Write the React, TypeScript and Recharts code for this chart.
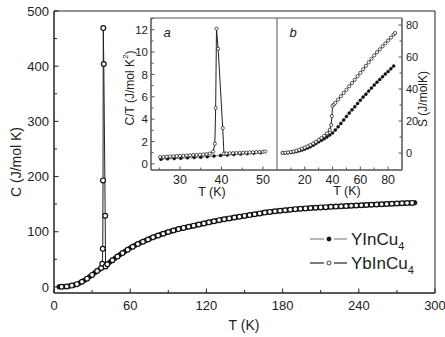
import React from 'react';
import { LineChart, Line, XAxis, YAxis, ReferenceArea } from 'recharts';

const FONT = '"Liberation Sans", Arial, Helvetica, sans-serif';

// ---------- Main panel: C (J/mol K) vs T (K) ----------
const mainYInT = [4, 8, 12, 16, 20, 24, 28, 32, 36, 40, 44, 48, 52, 56, 60, 64, 68, 72, 76, 80, 84, 88, 92, 96, 100, 104, 108, 112, 116, 120, 124, 128, 132, 136, 140, 144, 148, 152, 156, 160, 164, 168, 172, 176, 180, 184, 188, 192, 196, 200, 204, 208, 212, 216, 220, 224, 228, 232, 236, 240, 244, 248, 252, 256, 260, 264, 268, 272, 276, 280, 284];
const mainYInC = [0.1, 0.5, 1.5, 3.5, 7, 12, 18.5, 25.5, 32, 38, 45, 52, 58.5, 64.5, 70.5, 75.5, 80, 84, 88, 91.5, 95, 98, 101, 103.5, 106, 108, 110, 112, 114, 116, 118, 120, 122, 123.5, 125, 126.5, 128, 129.5, 131, 132.5, 134, 135.5, 136.5, 137.5, 138.5, 139.5, 140.5, 141.3, 142, 142.7, 143.3, 143.9, 144.4, 144.9, 145.4, 145.8, 146.3, 146.8, 147.3, 147.8, 148.3, 148.8, 149.3, 149.7, 150.1, 150.5, 150.9, 151.3, 151.7, 152.1, 152.5];

const mainYbT = [6, 10, 14, 18, 22, 26, 30, 34, 37.2, 38.0, 38.4, 38.6, 38.8, 39.2, 40.3, 40.6, 42, 46, 50, 54, 58, 62, 66, 70, 74, 78, 82, 86, 90, 94, 98, 102, 106, 110, 114, 118, 122, 126, 130, 134, 138, 142, 146, 150, 154, 158, 162, 166, 170, 174, 178, 182, 186, 190, 194, 198, 202, 206, 210, 214, 218, 222, 226, 230, 234, 238, 242, 246, 250, 254, 258, 262, 266, 270, 274, 278, 282];
const mainYbC = [0.2, 0.9, 2.4, 5, 9.3, 15, 21.8, 28.8, 34.5, 42, 69, 193, 469, 404, 129, 37, 41, 48.3, 55, 61.3, 67.3, 72.8, 77.6, 82, 86, 89.8, 93.2, 96.5, 99.5, 102.2, 104.8, 107, 109, 111, 113, 115, 117, 119, 121, 122.7, 124.2, 125.7, 127.2, 128.7, 130.2, 131.7, 133.2, 134.7, 136, 137, 138, 139, 140, 140.9, 141.6, 142.3, 143, 143.6, 144.1, 144.6, 145.1, 145.6, 146, 146.5, 147, 147.5, 148, 148.5, 149, 149.5, 149.9, 150.3, 150.7, 151.1, 151.5, 151.9, 152.3];

const mainXTicks = [0, 30, 60, 90, 120, 150, 180, 210, 240, 270, 300];
const mainXLabels = [0, 60, 120, 180, 240, 300];
const mainYTicks = [0, 50, 100, 150, 200, 250, 300, 350, 400, 450, 500];
const mainYLabels = [0, 100, 200, 300, 400, 500];

// ---------- Inset a: C/T vs T ----------
const insetAYInT = [25.4, 27.0, 28.6, 30.2, 31.8, 33.4, 35.0, 36.6, 38.2, 39.8, 41.4, 43.0, 44.6, 46.2, 47.8, 49.4];
const insetAYInCT = [0.42, 0.45, 0.48, 0.51, 0.54, 0.57, 0.6, 0.64, 0.7, 0.75, 0.8, 0.84, 0.88, 0.92, 0.96, 1.0];
const insetAYbT = [25.2, 26.0, 26.8, 27.6, 28.4, 29.2, 30.0, 30.8, 31.6, 32.4, 33.2, 34.0, 34.8, 35.6, 36.4, 37.2, 38.0, 38.4, 38.6, 38.8, 39.2, 40.3, 40.6, 41.2, 42.0, 42.8, 43.6, 44.4, 45.2, 46.0, 46.8, 47.6, 48.4, 49.2, 50.0, 50.6];
const insetAYbCT = [0.6, 0.62, 0.64, 0.66, 0.68, 0.7, 0.71, 0.73, 0.75, 0.77, 0.79, 0.8, 0.82, 0.84, 0.87, 0.92, 1.1, 1.8, 5.0, 12.1, 10.3, 3.2, 0.92, 0.93, 0.95, 0.96, 0.97, 0.98, 1.0, 1.01, 1.02, 1.04, 1.05, 1.06, 1.08, 1.1];

const aXTicks = [25, 30, 35, 40, 45, 50];
const aXLabels = [30, 40, 50];
const aYTicks = [0, 1, 2, 3, 4, 5, 6, 7, 8, 9, 10, 11, 12, 13];
const aYLabels = [0, 2, 4, 6, 8, 10, 12];

// ---------- Inset b: S vs T ----------
const insetBYInT = [4, 6, 8, 10, 12, 14, 16, 18, 20, 22, 24, 26, 28, 30, 32, 34, 36, 38, 40, 42, 44, 46, 48, 50, 52, 54, 56, 58, 60, 62, 64, 66, 68, 70, 72, 74, 76, 78, 80, 82, 84];
const insetBYInS = [0.0, 0.1, 0.2, 0.4, 0.7, 1.0, 1.4, 1.9, 2.5, 3.2, 4.0, 4.9, 5.9, 7.0, 8.0, 9.0, 10.1, 11.3, 12.6, 14.4, 16.4, 18.5, 20.7, 22.9, 25.0, 27.0, 29.0, 31.0, 33.0, 35.0, 36.8, 38.7, 40.6, 42.5, 44.3, 46.0, 47.7, 49.4, 51.0, 52.7, 54.4];
const insetBYbT = [4, 6, 8, 10, 12, 14, 16, 18, 20, 22, 24, 26, 28, 30, 32, 34, 36, 38, 39, 39.5, 40, 41, 42, 44, 46, 48, 50, 52, 54, 56, 58, 60, 62, 64, 66, 68, 70, 72, 74, 76, 78, 80, 82, 84, 85];
const insetBYbS = [0.1, 0.2, 0.4, 0.7, 1.0, 1.5, 2.0, 2.7, 3.4, 4.2, 5.0, 6.0, 7.0, 8.2, 9.4, 10.8, 12.3, 14.5, 17.5, 23, 29.5, 30.5, 31.4, 33.4, 35.5, 37.6, 39.6, 41.7, 43.8, 45.8, 48, 50.1, 52.3, 54.5, 56.7, 58.9, 61, 63, 64.8, 66.7, 68.5, 70.3, 72.2, 74, 75];

const bXTicks = [10, 20, 30, 40, 50, 60, 70, 80];
const bXLabels = [20, 40, 60, 80];
const bYTicks = [0, 10, 20, 30, 40, 50, 60, 70, 80];
const bYLabels = [0, 20, 40, 60, 80];

const zip = (xs: number[], ys: number[]) => xs.map((x, i) => ({ T: x, V: ys[i] }));

const mainYIn = zip(mainYInT, mainYInC);
const mainYb = zip(mainYbT, mainYbC);
const aYIn = zip(insetAYInT, insetAYInCT);
const aYb = zip(insetAYbT, insetAYbCT);
const bYIn = zip(insetBYInT, insetBYInS);
const bYb = zip(insetBYbT, insetBYbS);

type Side = 'bottom' | 'left' | 'right';
const tickFactory = (side: Side, labels: number[], major: number, minor: number, fs: number, gap: number, color: string) =>
  (p: any) => {
    const { x, y, payload } = p;
    const v = payload.value;
    const isMajor = labels.includes(v);
    const L = isMajor ? major : minor;
    if (side === 'bottom') {
      return (
        <g>
          <line x1={x} y1={y} x2={x} y2={y - L} stroke={color} strokeWidth={1} />
          {isMajor && (
            <text x={x} y={y + gap} textAnchor="middle" fontSize={fs} fontFamily={FONT} fill="#222">{v}</text>
          )}
        </g>
      );
    }
    if (side === 'left') {
      return (
        <g>
          <line x1={x} y1={y} x2={x + L} y2={y} stroke={color} strokeWidth={1} />
          {isMajor && (
            <text x={x - gap} y={y + fs * 0.36} textAnchor="end" fontSize={fs} fontFamily={FONT} fill="#222">{v}</text>
          )}
        </g>
      );
    }
    return (
      <g>
        <line x1={x} y1={y} x2={x - L} y2={y} stroke={color} strokeWidth={1} />
        {isMajor && (
          <text x={x + gap} y={y + fs * 0.36} textAnchor="start" fontSize={fs} fontFamily={FONT} fill="#222">{v}</text>
        )}
      </g>
    );
  };

const MAIN_COLOR = '#222';
const INSET_COLOR = '#555';

export default function App() {
  return (
    <div style={{ position: 'absolute', left: 0, top: 0, width: 445, height: 337, background: '#fff', fontFamily: FONT }}>
      {/* Main chart */}
      <div style={{ position: 'absolute', left: 0, top: 0 }}>
        <LineChart width={445} height={337} margin={{ top: 11, right: 10, bottom: 0, left: 0 }}>
          <XAxis type="number" dataKey="T" domain={[0, 300]} ticks={mainXTicks} interval={0} height={44}
            tickSize={0} tickMargin={0} tickLine={false} axisLine={{ stroke: MAIN_COLOR }} allowDataOverflow
            tick={tickFactory('bottom', mainXLabels, 4.5, 3, 13, 16.5, MAIN_COLOR)} />
          <YAxis type="number" domain={[-11, 500]} ticks={mainYTicks} interval={0} width={54}
            tickSize={0} tickMargin={0} tickLine={false} axisLine={{ stroke: MAIN_COLOR }} allowDataOverflow
            tick={tickFactory('left', mainYLabels, 4.5, 3, 13, 5, MAIN_COLOR)} />
          <ReferenceArea x1={0} x2={300} y1={-11} y2={500} fill="none" stroke={MAIN_COLOR} strokeWidth={1} />
          <Line data={mainYIn} dataKey="V" stroke="#888" strokeWidth={1}
            dot={{ r: 2.3, fill: '#111', stroke: '#111', strokeWidth: 0.8 }} isAnimationActive={false} />
          <Line data={mainYb} dataKey="V" stroke="#222" strokeWidth={1}
            dot={{ r: 2.4, fill: '#fff', stroke: '#111', strokeWidth: 1.2 }} isAnimationActive={false} />
        </LineChart>
      </div>

      {/* Inset a */}
      <div style={{ position: 'absolute', left: 100, top: 0 }}>
        <LineChart width={177} height={200} margin={{ top: 18, right: 0, bottom: 0, left: 0 }}>
          <XAxis type="number" dataKey="T" domain={[23, 53.4]} ticks={aXTicks} interval={0} height={30}
            tickSize={0} tickMargin={0} tickLine={false} axisLine={{ stroke: INSET_COLOR }} allowDataOverflow
            tick={tickFactory('bottom', aXLabels, 3.5, 2.5, 12.5, 13.5, INSET_COLOR)} />
          <YAxis type="number" domain={[-0.55, 13.05]} ticks={aYTicks} interval={0} width={51}
            tickSize={0} tickMargin={0} tickLine={false} axisLine={{ stroke: INSET_COLOR }} allowDataOverflow
            tick={tickFactory('left', aYLabels, 3.5, 2.5, 11.5, 3, INSET_COLOR)} />
          <ReferenceArea x1={23} x2={53.4} y1={-0.55} y2={13.05} fill="none" stroke={INSET_COLOR} strokeWidth={1} />
          <Line data={aYIn} dataKey="V" stroke="#777" strokeWidth={1}
            dot={{ r: 1.5, fill: '#111', stroke: '#111', strokeWidth: 0.5 }} isAnimationActive={false} />
          <Line data={aYb} dataKey="V" stroke="#222" strokeWidth={1}
            dot={{ r: 1.6, fill: '#fff', stroke: '#111', strokeWidth: 0.7 }} isAnimationActive={false} />
        </LineChart>
      </div>

      {/* Inset b */}
      <div style={{ position: 'absolute', left: 277, top: 0 }}>
        <LineChart width={168} height={200} margin={{ top: 18, right: 0, bottom: 0, left: 0 }}>
          <XAxis type="number" dataKey="T" domain={[0, 90]} ticks={bXTicks} interval={0} height={30}
            tickSize={0} tickMargin={0} tickLine={false} axisLine={{ stroke: INSET_COLOR }} allowDataOverflow
            tick={tickFactory('bottom', bXLabels, 3.5, 2.5, 12.5, 13.5, INSET_COLOR)} />
          <YAxis yAxisId="r" orientation="right" type="number" domain={[-10.6, 84.4]} ticks={bYTicks} interval={0} width={43}
            tickSize={0} tickMargin={0} tickLine={false} axisLine={{ stroke: INSET_COLOR }} allowDataOverflow
            tick={tickFactory('right', bYLabels, 3.5, 2.5, 11, 4, INSET_COLOR)} />
          <ReferenceArea yAxisId="r" x1={0} x2={90} y1={-10.6} y2={84.4} fill="none" stroke={INSET_COLOR} strokeWidth={1} />
          <Line yAxisId="r" data={bYIn} dataKey="V" stroke="#777" strokeWidth={1}
            dot={{ r: 1.5, fill: '#111', stroke: '#111', strokeWidth: 0.5 }} isAnimationActive={false} />
          <Line yAxisId="r" data={bYb} dataKey="V" stroke="#222" strokeWidth={1}
            dot={{ r: 1.6, fill: '#fff', stroke: '#111', strokeWidth: 0.7 }} isAnimationActive={false} />
        </LineChart>
      </div>

      {/* Titles, panel letters and legend */}
      <svg width={445} height={337} style={{ position: 'absolute', left: 0, top: 0, pointerEvents: 'none' }} fontFamily={FONT}>
        <text x={16} y={162} transform="rotate(-90 16 162)" textAnchor="middle" dominantBaseline="central" fontSize={14} fill="#222">C (J/mol K)</text>
        <text x={244} y={325} textAnchor="middle" dominantBaseline="central" fontSize={14} fill="#222">T (K)</text>

        <text x={130} y={88} transform="rotate(-90 130 88)" textAnchor="middle" dominantBaseline="central" fontSize={12} fill="#222">
          C/T (J/mol K<tspan fontSize={8} dy={-5}>2</tspan><tspan dy={5}>)</tspan>
        </text>
        <text x={212} y={192} textAnchor="middle" dominantBaseline="central" fontSize={12.5} fill="#222">T (K)</text>
        <text x={347} y={191} textAnchor="middle" dominantBaseline="central" fontSize={12.5} fill="#222">T (K)</text>
        <text x={423} y={99} transform="rotate(-90 423 99)" textAnchor="middle" dominantBaseline="central" fontSize={12} fill="#222">S (J/molK)</text>

        <text x={167} y={32} textAnchor="middle" dominantBaseline="central" fontSize={13} fontStyle="italic" fill="#222">a</text>
        <text x={293} y={32} textAnchor="middle" dominantBaseline="central" fontSize={13} fontStyle="italic" fill="#222">b</text>

        {/* Legend */}
        <line x1={310} y1={239} x2={324} y2={239} stroke="#888" strokeWidth={1.2} />
        <line x1={334} y1={239} x2={347} y2={239} stroke="#888" strokeWidth={1.2} />
        <circle cx={329} cy={239} r={2} fill="#111" stroke="#111" />
        <text x={351} y={244.5} fontSize={17} fill="#222">YInCu<tspan fontSize={11} dy={5}>4</tspan></text>

        <line x1={310} y1={263} x2={324} y2={263} stroke="#222" strokeWidth={1.2} />
        <line x1={334} y1={263} x2={347} y2={263} stroke="#222" strokeWidth={1.2} />
        <circle cx={329} cy={263} r={2} fill="#fff" stroke="#111" strokeWidth={0.8} />
        <text x={351} y={268.5} fontSize={17} fill="#222">YbInCu<tspan fontSize={11} dy={5}>4</tspan></text>
      </svg>
    </div>
  );
}
